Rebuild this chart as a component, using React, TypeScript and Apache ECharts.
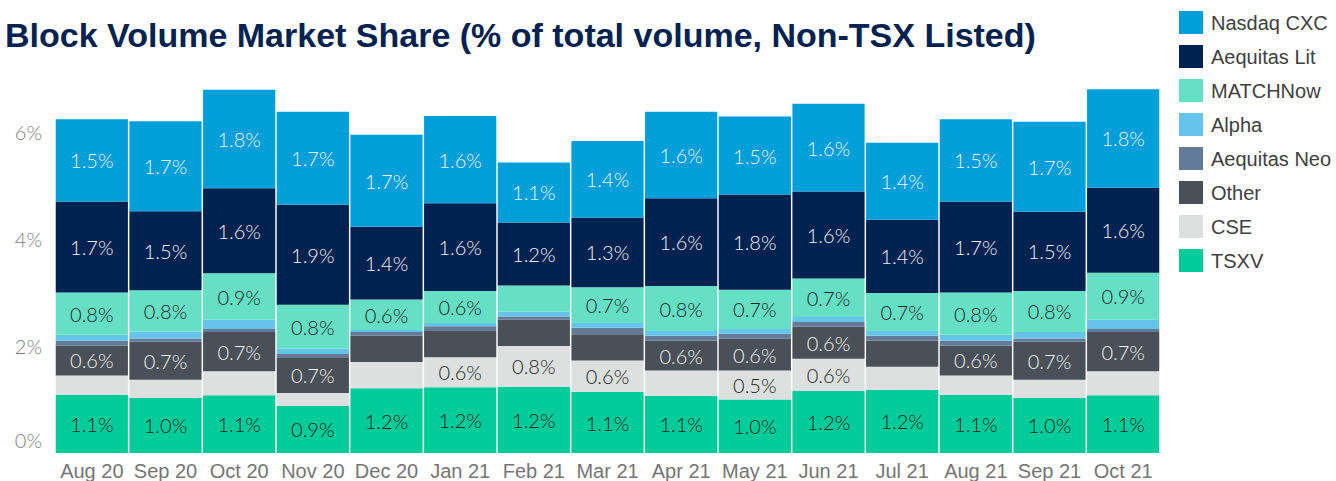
import React, { useEffect, useRef } from "react";
import * as echarts from "echarts";

const months = ["Aug 20", "Sep 20", "Oct 20", "Nov 20", "Dec 20", "Jan 21", "Feb 21", "Mar 21", "Apr 21", "May 21", "Jun 21", "Jul 21", "Aug 21", "Sep 21", "Oct 21"];

const tsxv = [1.09, 1.03, 1.08, 0.88, 1.21, 1.23, 1.24, 1.14, 1.07, 1.0, 1.16, 1.18, 1.09, 1.03, 1.08];
const cse = [0.36, 0.34, 0.45, 0.24, 0.49, 0.56, 0.76, 0.59, 0.47, 0.54, 0.6, 0.43, 0.36, 0.34, 0.45];
const other = [0.56, 0.71, 0.73, 0.67, 0.49, 0.49, 0.49, 0.49, 0.56, 0.6, 0.6, 0.49, 0.56, 0.71, 0.73];
const aequitasNeo = [0.09, 0.06, 0.06, 0.06, 0.07, 0.09, 0.06, 0.12, 0.09, 0.09, 0.09, 0.09, 0.09, 0.06, 0.06];
const alpha = [0.11, 0.13, 0.17, 0.1, 0.04, 0.06, 0.09, 0.09, 0.09, 0.09, 0.09, 0.09, 0.11, 0.12, 0.17];
const matchNow = [0.79, 0.77, 0.87, 0.82, 0.57, 0.6, 0.49, 0.67, 0.84, 0.73, 0.72, 0.71, 0.79, 0.77, 0.88];
const aequitasLit = [1.7, 1.48, 1.59, 1.87, 1.36, 1.64, 1.18, 1.3, 1.64, 1.78, 1.63, 1.37, 1.7, 1.48, 1.59];
const nasdaqCxc = [1.54, 1.68, 1.84, 1.74, 1.72, 1.63, 1.12, 1.43, 1.62, 1.46, 1.64, 1.44, 1.54, 1.68, 1.84];

const legendOrder = ["Nasdaq CXC", "Aequitas Lit", "MATCHNow", "Alpha", "Aequitas Neo", "Other", "CSE", "TSXV"];

const LABEL_FONT = "Lato, 'Open Sans', sans-serif";
const ARIAL = "'Liberation Sans', Arial, sans-serif";

export default function App() {
  const ref = useRef<HTMLDivElement>(null);
  useEffect(() => {
    if (!ref.current) return;
    const chart = echarts.init(ref.current, undefined, { renderer: "svg" });
    const mk = (name: string, data: number[], color: string, labelColor: string) => ({
      name,
      type: "bar",
      stack: "total",
      data,
      barCategoryGap: "2%",
      itemStyle: { color },
      label: {
        show: true,
        position: "inside",
        color: labelColor,
        fontFamily: LABEL_FONT,
        fontWeight: 300,
        fontSize: 20,
        formatter: (p: any) => (p.value >= 0.5 ? p.value.toFixed(1) + "%" : ""),
      },
    });
    chart.setOption({
      animation: false,
      title: {
        text: "Block Volume Market Share (% of total volume, Non-TSX Listed)",
        left: 0,
        top: 13,
        textStyle: { fontFamily: ARIAL, fontWeight: "bold", fontSize: 34, color: "#002251" },
      },
      legend: {
        orient: "vertical",
        left: 1174,
        top: 6,
        itemWidth: 24,
        itemHeight: 23,
        itemGap: 11,
        icon: "rect",
        data: legendOrder,
        textStyle: { fontFamily: ARIAL, fontSize: 20, color: "#404040", padding: [0, 0, 0, 3] },
      },
      grid: { left: 55, right: 1336 - 1160, top: 25, bottom: 27.7, containLabel: false },
      xAxis: {
        type: "category",
        data: months,
        axisLine: { show: false },
        axisTick: { show: false },
        axisLabel: { interval: 0, fontFamily: ARIAL, fontSize: 20, color: "#757575", margin: 8 },
      },
      yAxis: {
        type: "value",
        min: 0,
        max: 8,
        interval: 2,
        splitLine: { show: false },
        axisLine: { show: false },
        axisTick: { show: false },
        axisLabel: {
          showMaxLabel: false,
          fontFamily: LABEL_FONT,
          fontWeight: 300,
          fontSize: 20,
          color: "#808080",
          margin: 13,
          formatter: (v: number) => (v === 0 ? "{z|0%}" : v + "%"),
          rich: { z: { fontFamily: LABEL_FONT, fontWeight: 300, fontSize: 20, color: "#808080", padding: [0, 0, 26, 0] } },
        },
      },
      series: [
        mk("TSXV", tsxv, "#00CC99", "#1c2526"),
        mk("CSE", cse, "#DEE0E0", "#1c2526"),
        mk("Other", other, "#495057", "#f0f0f0"),
        mk("Aequitas Neo", aequitasNeo, "#637A99", "#f0f0f0"),
        mk("Alpha", alpha, "#66C4EA", "#1c2526"),
        mk("MATCHNow", matchNow, "#66E0C4", "#1c2526"),
        mk("Aequitas Lit", aequitasLit, "#002251", "#f0f0f0"),
        mk("Nasdaq CXC", nasdaqCxc, "#009FDA", "#f0f0f0"),
      ],
    });
    return () => chart.dispose();
  }, []);
  return <div ref={ref} style={{ position: "fixed", left: 0, top: 0, width: 1336, height: 481, background: "#fff" }} />;
}
